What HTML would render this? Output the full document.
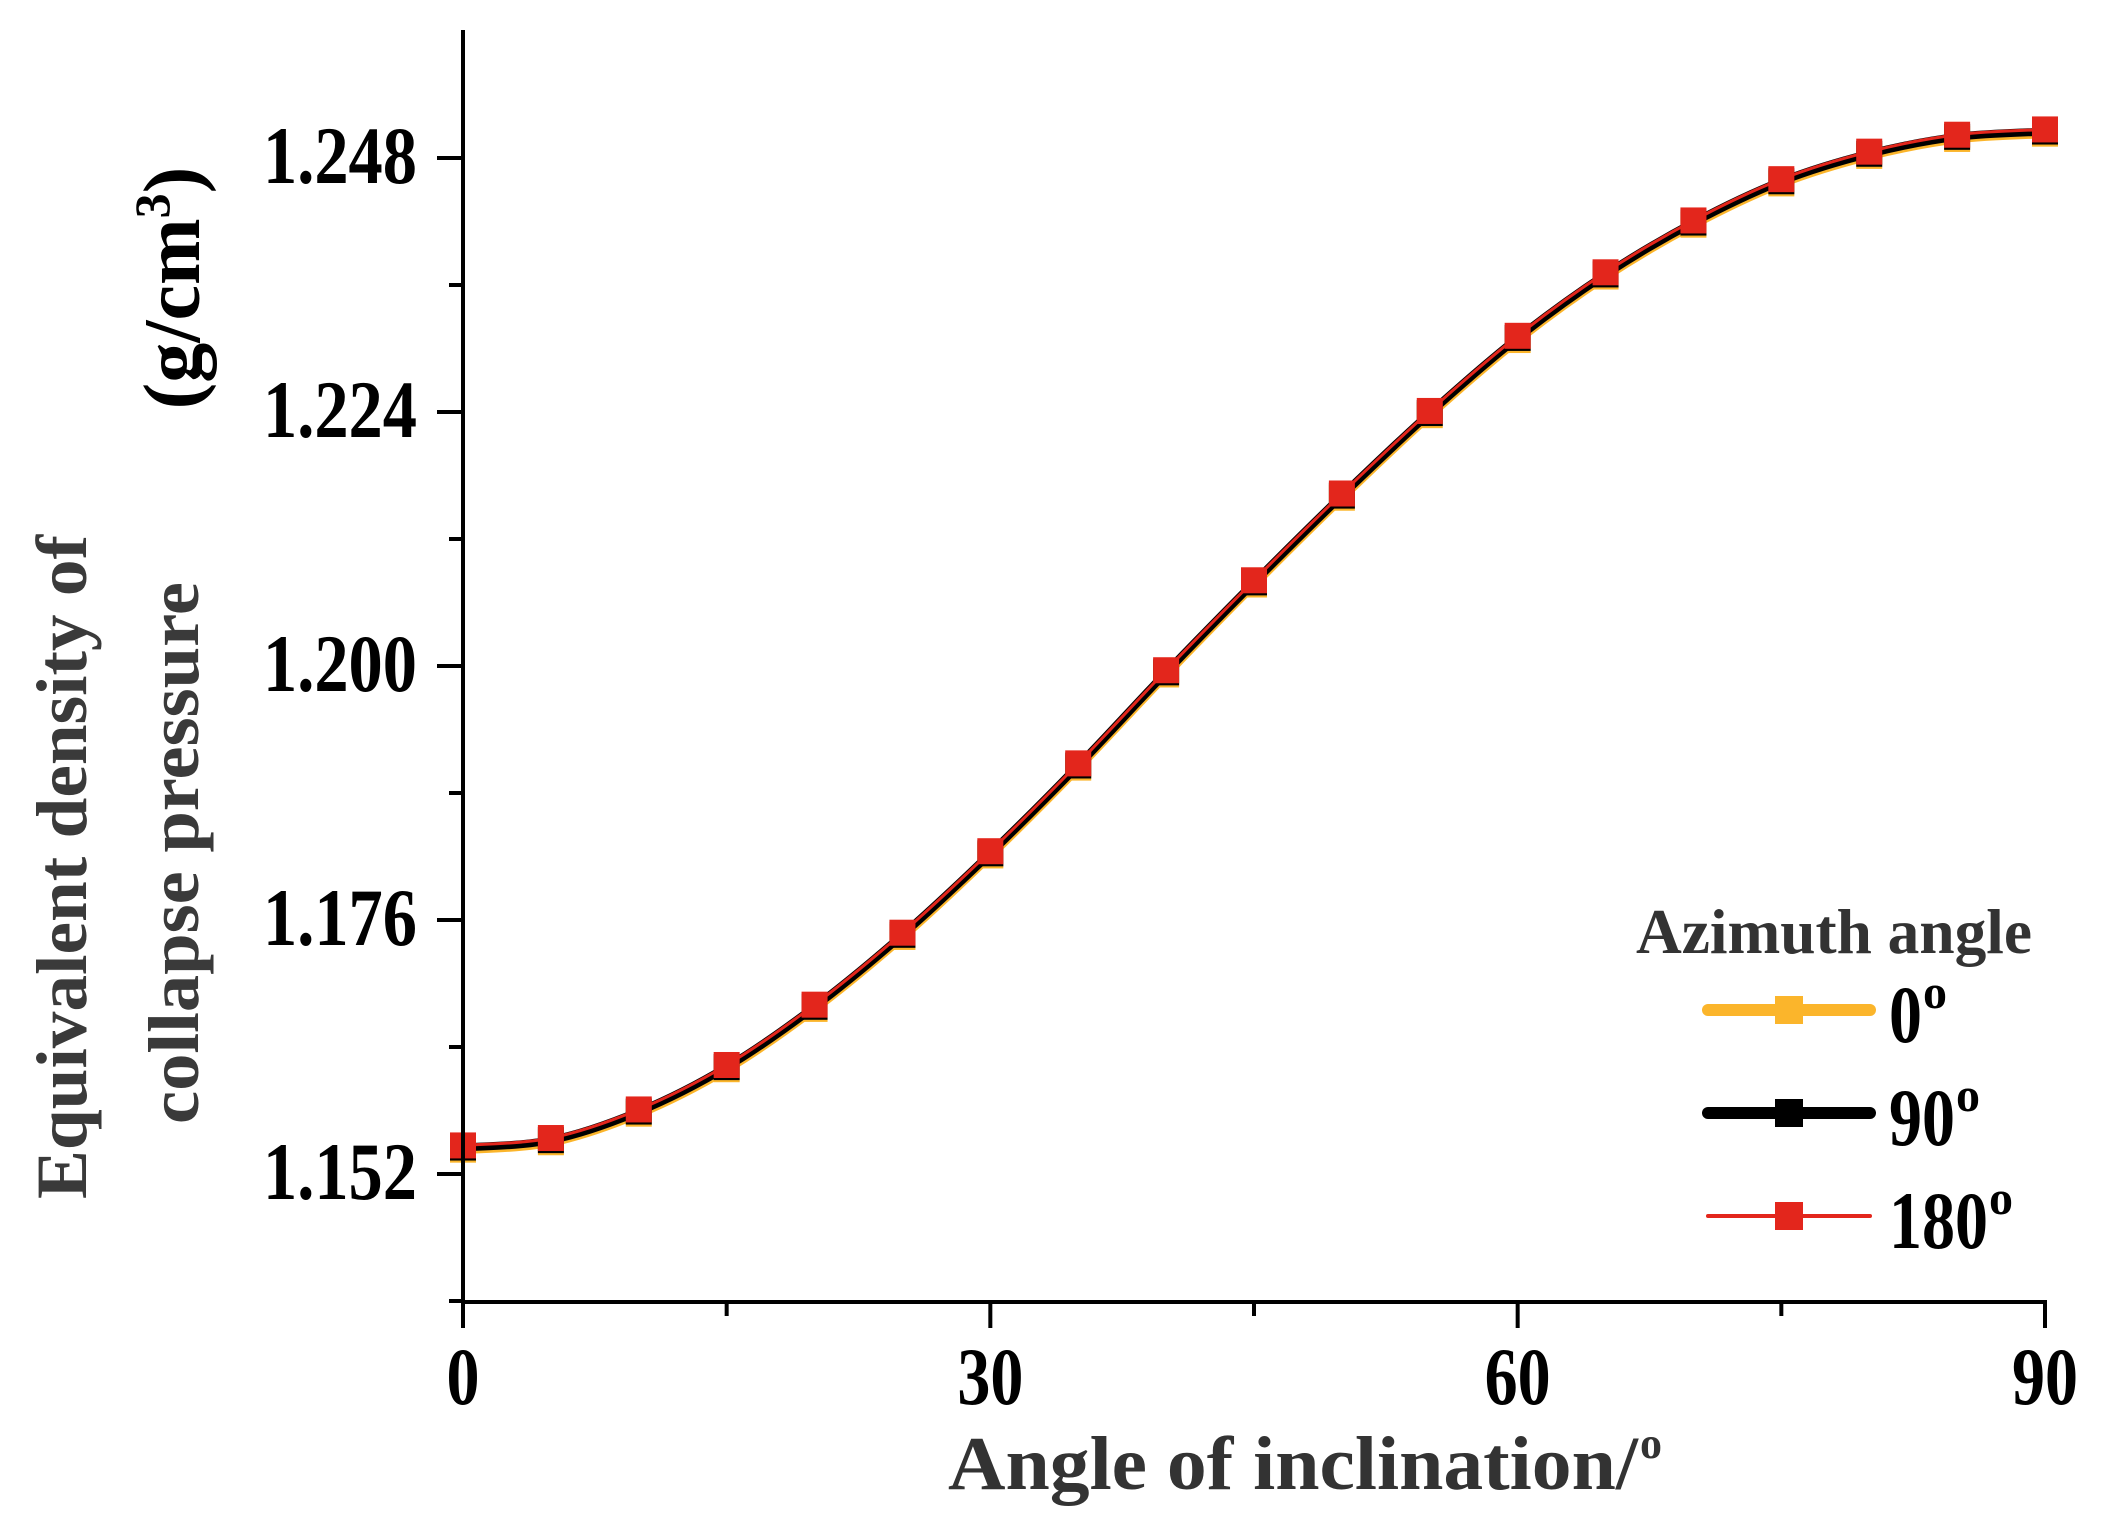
<!DOCTYPE html>
<html><head><meta charset="utf-8"><style>
html,body{margin:0;padding:0;background:#fff;}
svg{display:block;font-family:"Liberation Serif",serif;font-weight:bold;}
</style></head><body>
<svg id="chart" width="2113" height="1514" viewBox="0 0 2113 1514" xmlns="http://www.w3.org/2000/svg">
<g id="plot"></g>
<g id="axes"></g>
<text x="948" y="1489" font-size="76" fill="#333" textLength="690" lengthAdjust="spacingAndGlyphs">Angle of inclination/</text>
<text x="1640" y="1458" font-size="44" fill="#333">o</text>
<text transform="translate(86,867) rotate(-90)" text-anchor="middle" font-size="72" fill="#3a3a3a" textLength="664" lengthAdjust="spacingAndGlyphs">Equivalent density of</text>
<text transform="translate(198,853) rotate(-90)" text-anchor="middle" font-size="72" fill="#3a3a3a" textLength="542" lengthAdjust="spacingAndGlyphs">collapse pressure</text>
<text transform="translate(199,288) rotate(-90)" text-anchor="middle" font-size="80" fill="#000">(g/cm<tspan dy="-30" font-size="50">3</tspan><tspan dy="30">)</tspan></text>
<g id="legend">
<text x="1834" y="953" text-anchor="middle" font-size="64" fill="#333" textLength="396" lengthAdjust="spacingAndGlyphs">Azimuth angle</text>
</g>
</svg>
<script>
const xValues = [0,5,10,15,20,25,30,35,40,45,50,55,60,65,70,75,80,85,90];
const series180 = [1.1547,1.1554,1.1581,1.1623,1.1680,1.1748,1.1825,1.1908,1.1996,1.2081,1.2163,1.2241,1.2312,1.2372,1.2421,1.2460,1.2486,1.2502,1.2507];
const series90  = [1.1545,1.1552,1.1579,1.1621,1.1678,1.1746,1.1823,1.1906,1.1994,1.2079,1.2161,1.2239,1.2310,1.2370,1.2419,1.2458,1.2484,1.2500,1.2505];
const series0   = [1.1543,1.1550,1.1577,1.1619,1.1676,1.1744,1.1821,1.1904,1.1992,1.2077,1.2159,1.2237,1.2308,1.2368,1.2417,1.2456,1.2482,1.2498,1.2503];
const xTicks = [0,30,60,90];
const xMinor = [15,45,75];
const yTicks = [1.152,1.176,1.200,1.224,1.248];
const yTickLabels = ["1.152","1.176","1.200","1.224","1.248"];
const yMinor = [1.140,1.164,1.188,1.212,1.236];
const seriesNames = ["0","90","180"];

const NS="http://www.w3.org/2000/svg";
const X0=463, X1=2045, Ybot=1302, Ytop=30;
const xs=v=>X0+(v-0)/90*(X1-X0);
const ys=v=>158+(1.248-v)/0.024*254;
function mk(tag,attrs,parent){const e=document.createElementNS(NS,tag);for(const k in attrs)e.setAttribute(k,attrs[k]);parent.appendChild(e);return e;}
const axes=document.getElementById('axes'), plot=document.getElementById('plot'), legend=document.getElementById('legend');

let e=mk('line',{x1:X0,y1:Ytop,x2:X0,y2:Ybot+1,stroke:'#000','stroke-width':4},axes);


e=mk('line',{x1:X0-2,y1:Ybot,x2:X1+2,y2:Ybot,stroke:'#000','stroke-width':4},axes);



xTicks.forEach(v=>{
  const t=mk('line',{x1:xs(v),y1:Ybot,x2:xs(v),y2:Ybot+26,stroke:'#000','stroke-width':4},axes);
  
  
  const s=String(v);
  const l=mk('text',{x:xs(v),y:1404,'text-anchor':'middle','font-size':82,fill:'#000',textLength:33*s.length,lengthAdjust:'spacingAndGlyphs'},axes);
  l.textContent=s;
  
  
});
xMinor.forEach(v=>{
  const t=mk('line',{x1:xs(v),y1:Ybot,x2:xs(v),y2:Ybot+14,stroke:'#000','stroke-width':4},axes);
  
  
});
yTicks.forEach((v,i)=>{
  const t=mk('line',{x1:X0-26,y1:ys(v),x2:X0,y2:ys(v),stroke:'#000','stroke-width':4},axes);
  
  
  const l=mk('text',{x:417,y:ys(v)+25,'text-anchor':'end','font-size':82,fill:'#000',textLength:154,lengthAdjust:'spacingAndGlyphs'},axes);
  l.textContent=yTickLabels[i];
  
  
});
yMinor.forEach(v=>{
  const t=mk('line',{x1:X0-14,y1:ys(v),x2:X0,y2:ys(v),stroke:'#000','stroke-width':4},axes);
  
  
});

function smoothPath(vals){
  const p=xValues.map((x,i)=>[xs(x),ys(vals[i])]);
  let d='M'+p[0][0]+','+p[0][1];
  for(let i=0;i<p.length-1;i++){
    const p0=p[i-1]||p[i],p1=p[i],p2=p[i+1],p3=p[i+2]||p2;
    const c1=[p1[0]+(p2[0]-p0[0])/6,p1[1]+(p2[1]-p0[1])/6];
    const c2=[p2[0]-(p3[0]-p1[0])/6,p2[1]-(p3[1]-p1[1])/6];
    d+=' C'+c1+' '+c2+' '+p2;
  }
  return d;
}
const styles=[{vals:series0,color:'#fbb52b',w:9,name:'series-0deg'},{vals:series90,color:'#000',w:8,name:'series-90deg'},{vals:series180,color:'#e3261c',w:3,name:'series-180deg'}];
styles.forEach(s=>{
  const g=mk('g',{},plot);
  
  
  const pth=mk('path',{d:smoothPath(s.vals),fill:'none',stroke:s.color,'stroke-width':s.w,'stroke-linejoin':'round'},g);
  
  
  xValues.forEach((x,i)=>{
    const r=mk('rect',{x:xs(x)-13,y:ys(s.vals[i])-13,width:26,height:26,fill:s.color},g);
    
    
  });
});

const legY=[1010,1113,1216];
styles.forEach((s,i)=>{
  const g=mk('g',{},legend);
  
  
  const ln=mk('line',{x1:1708,y1:legY[i],x2:1870,y2:legY[i],stroke:s.color,'stroke-width':s.w===3?4:12,'stroke-linecap':'round'},g);
  
  
  const r=mk('rect',{x:1775,y:legY[i]-14,width:28,height:28,fill:s.color},g);
  
  
  const n=seriesNames[i];
  const t=mk('text',{x:1889,y:legY[i]+32,'font-size':82,fill:'#000',textLength:33*n.length,lengthAdjust:'spacingAndGlyphs'},g);
  t.textContent=n;
  
  
  const sup=mk('text',{x:1889+33*n.length+1,y:legY[i]-2,'font-size':48,fill:'#000'},g);
  sup.textContent='o';
  
  
});
</script>
</body></html>
